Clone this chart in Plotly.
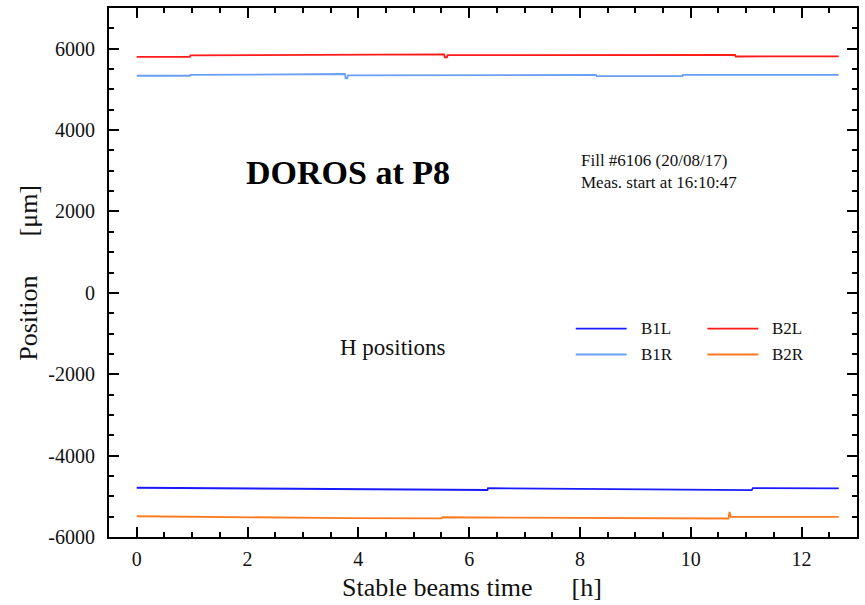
import plotly.graph_objects as go

# DOROS horizontal positions at P8, fill 6106 (stable beams time in hours, positions in um)
b1l_t = [0, 6.33, 6.34, 11.1, 11.12, 12.67]
b1l_v = [-4790, -4845, -4800, -4850, -4800, -4805]

b1r_t = [0, 0.96, 0.97, 3.3, 3.31, 3.76, 3.77, 3.8, 3.81, 5.5, 5.51, 8.29, 8.3, 9.85, 9.86, 12.67]
b1r_v = [5335, 5335, 5355, 5360, 5378, 5378, 5270, 5270, 5342, 5342, 5357, 5357, 5325, 5325, 5357, 5357]

b2l_t = [0, 0.96, 0.97, 4.95, 4.96, 5.55, 5.56, 5.6, 5.61, 10.8, 10.81, 12.67]
b2l_v = [5800, 5800, 5835, 5840, 5858, 5858, 5790, 5790, 5840, 5845, 5808, 5812]

b2r_t = [0, 1.0, 3.8, 5.5, 5.52, 10.68, 10.69, 10.7, 10.72, 12.67]
b2r_v = [-5490, -5505, -5535, -5540, -5515, -5545, -5385, -5385, -5505, -5505]

x_ticks = [0, 2, 4, 6, 8, 10, 12]
x_tick_labels = ["0", "2", "4", "6", "8", "10", "12"]
y_ticks = [-6000, -4000, -2000, 0, 2000, 4000, 6000]
y_tick_labels = ["-6000", "-4000", "-2000", "0", "2000", "4000", "6000"]

series = [
    ("B1L", b1l_t, b1l_v, "#1a1aff"),
    ("B1R", b1r_t, b1r_v, "#6a9ff5"),
    ("B2L", b2l_t, b2l_v, "#ff1a1a"),
    ("B2R", b2r_t, b2r_v, "#ff7a1f"),
]

FONT = "Liberation Serif"
NB = "\u00a0"
fig = go.Figure()
for name, t, v, col in series:
    fig.add_trace(go.Scatter(x=t, y=v, mode="lines", name=name,
                             line=dict(color=col, width=1.8), showlegend=False))

# hand-placed two-column key: (name, column, row)
key_layout = {"B1L": (0, 0), "B2L": (1, 0), "B1R": (0, 1), "B2R": (1, 1)}
col_x = [0.624, 0.800]
row_y = [0.394, 0.345]
for name, t, v, col in series:
    c, r = key_layout[name]
    x0 = col_x[c]
    fig.add_shape(type="line", xref="paper", yref="paper",
                  x0=x0, x1=x0 + 0.068, y0=row_y[r], y1=row_y[r],
                  line=dict(color=col, width=1.8))
    fig.add_annotation(xref="paper", yref="paper", x=x0 + 0.084, y=row_y[r],
                       text=name, showarrow=False, xanchor="left", yanchor="middle",
                       font=dict(family=FONT, size=17, color="#111"))

fig.add_annotation(xref="paper", yref="paper", x=0.32, y=0.689,
                   text="<b>DOROS at P8</b>", showarrow=False,
                   xanchor="center", yanchor="middle",
                   font=dict(family=FONT, size=34, color="black"))
fig.add_annotation(xref="paper", yref="paper", x=0.629, y=0.69,
                   text="Fill #6106 (20/08/17)<br>Meas. start at 16:10:47",
                   showarrow=False, xanchor="left", yanchor="middle", align="left",
                   font=dict(family=FONT, size=17, color="#111"))
fig.add_annotation(xref="paper", yref="paper", x=0.379, y=0.358,
                   text="H positions", showarrow=False,
                   xanchor="center", yanchor="middle",
                   font=dict(family=FONT, size=23, color="#111"))

# axis titles
fig.add_annotation(xref="paper", yref="paper", x=0.485, y=-0.096,
                   text="Stable beams time" + NB * 6 + "[h]", showarrow=False,
                   xanchor="center", yanchor="middle",
                   font=dict(family=FONT, size=26, color="#111"))
fig.add_annotation(xref="paper", yref="paper", x=-0.108, y=0.5,
                   text="Position" + NB * 6 + "[\u03bcm]", showarrow=False,
                   textangle=-90, xanchor="center", yanchor="middle",
                   font=dict(family=FONT, size=26, color="#111"))

axis_common = dict(
    showline=True, linecolor="black", linewidth=2, mirror="ticks",
    ticks="inside", ticklen=10, tickwidth=1.5, tickcolor="black",
    showgrid=False, zeroline=False, tickmode="array",
    tickfont=dict(family=FONT, size=20, color="#111"),
)

fig.update_xaxes(range=[-0.5, 13], tickvals=x_ticks, ticktext=x_tick_labels,
                 minor=dict(dtick=0.5, tick0=0, ticks="inside", ticklen=5, tickwidth=1.5, tickcolor="black"),
                 ticklabelstandoff=3, **axis_common)
fig.update_yaxes(range=[-6000, 7000], tickvals=y_ticks, ticktext=y_tick_labels,
                 minor=dict(dtick=500, tick0=0, ticks="inside", ticklen=5, tickwidth=1.5, tickcolor="black"),
                 ticklabelstandoff=8, **axis_common)

fig.update_layout(width=865, height=605,
                  margin=dict(l=109, r=6, t=7, b=68),
                  plot_bgcolor="white", paper_bgcolor="white",
                  font=dict(family=FONT))

fig.write_html("out.html")
